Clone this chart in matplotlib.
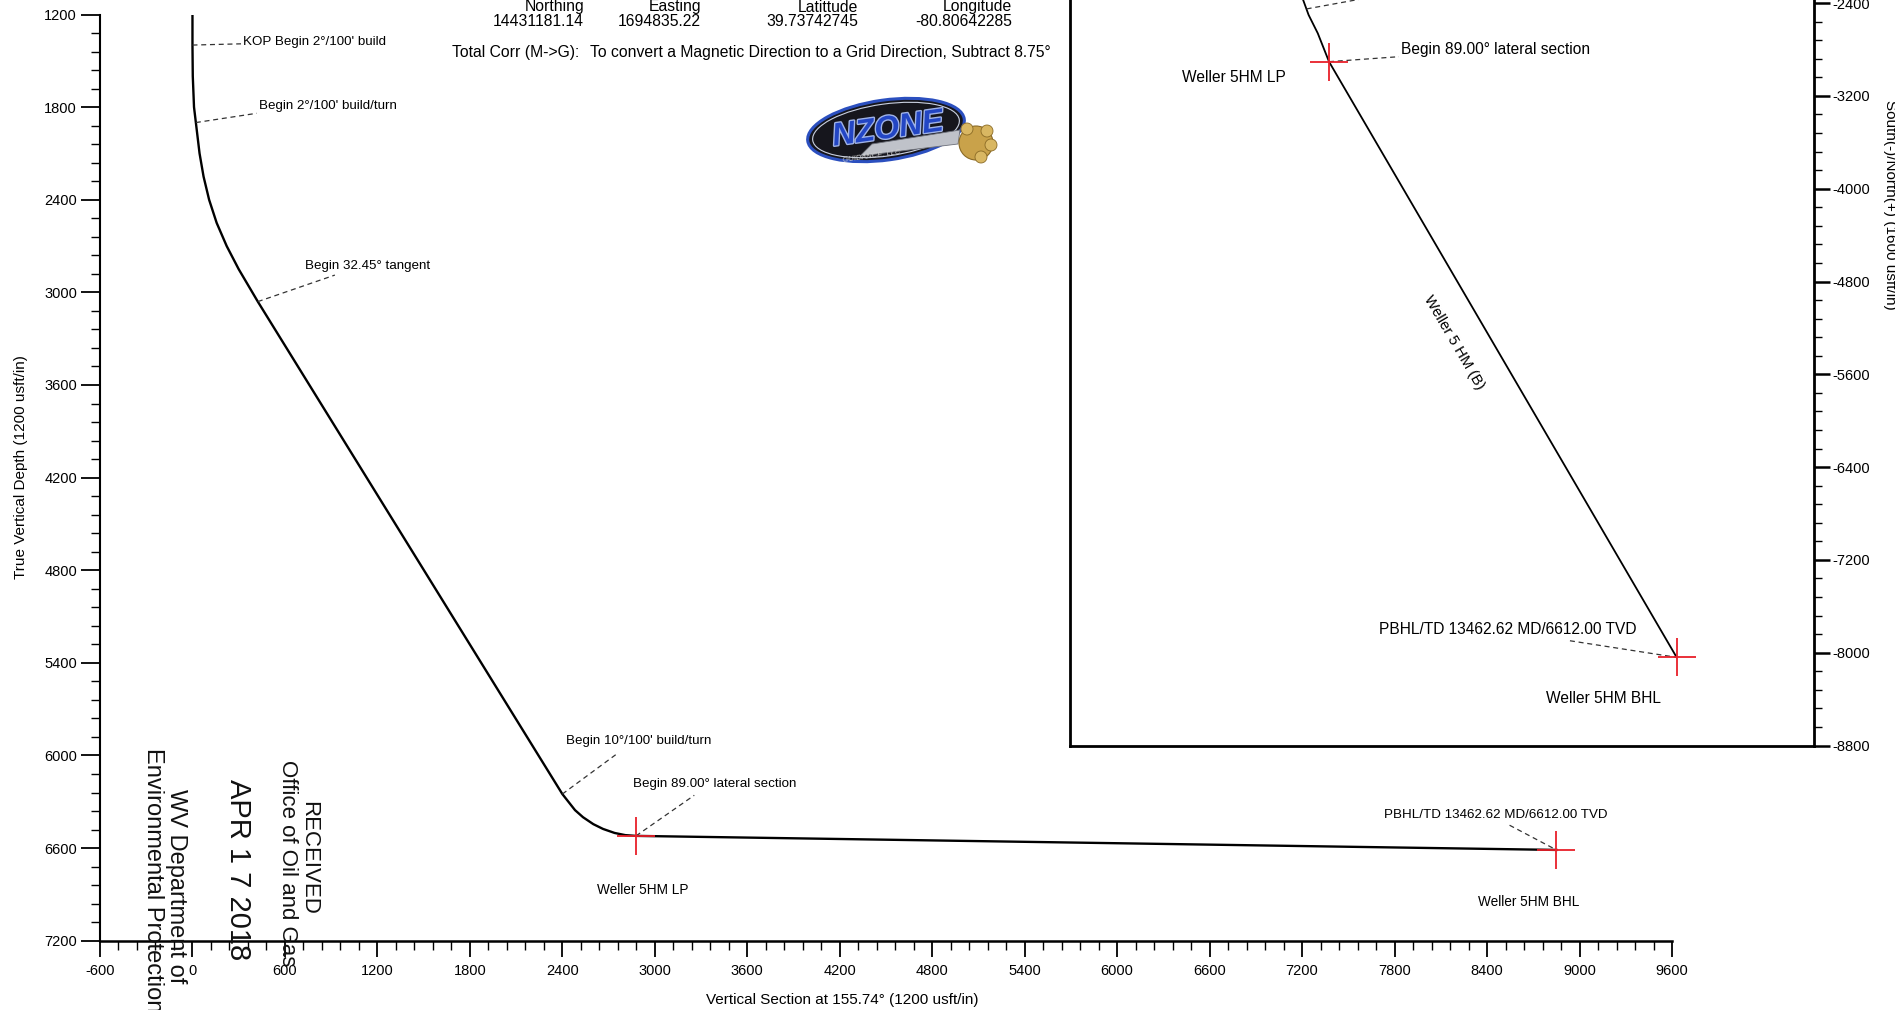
import matplotlib
matplotlib.use("Agg")
import matplotlib.pyplot as plt
import matplotlib.patheffects as pe
from matplotlib.patches import Ellipse, Polygon, Circle
from matplotlib.ticker import MultipleLocator

plt.rcParams['font.family'] = ['Liberation Sans', 'DejaVu Sans']
plt.rcParams['axes.unicode_minus'] = False

W, H = 1895, 1010

# --- section view (vertical section vs TVD), usft
vs = [0, 0, 2, 10, 22, 46, 72, 108, 157, 222, 300, 424,
      2400, 2482, 2534, 2601, 2664, 2739, 2808, 2878, 8850]
tvd = [1200, 1400, 1600, 1800, 1900, 2100, 2250, 2400, 2550, 2700, 2850, 3060,
       6250, 6354, 6400, 6445, 6476, 6502, 6516, 6521, 6612]

# --- plan view (east / north), usft
east = [380, 410, 457, 536, 633, 3630]
north = [-2200, -2373, -2502, -2660, -2905, -8040]

# targets
lp_vs, lp_tvd = 2878, 6521
bhl_vs, bhl_tvd = 8850, 6612
lp_e, lp_n = 633, -2905
bhl_e, bhl_n = 3630, -8040

# header values
head_labels = ['Northing', 'Easting', 'Latittude', 'Longitude']
head_values = ['14431181.14', '1694835.22', '39.73742745', '-80.80642285']
head_right = [584, 701, 858, 1012]

RED = '#e8202a'
DASH = dict(color='#333333', lw=0.9, dashes=(4, 3))


def px(x, y):
    return x / W, 1 - y / H


fig = plt.figure(figsize=(W / 100, H / 100), dpi=100)

# ---------------- main section plot
ax = fig.add_axes([100 / W, 69.3 / H, 1572 / W, 926.2 / H])
ax.set_xlim(-600, 9600)
ax.set_ylim(7200, 1200)
for s in ['top', 'right']:
    ax.spines[s].set_visible(False)
ax.spines['left'].set_linewidth(1.5)
ax.spines['bottom'].set_linewidth(1.8)
ax.xaxis.set_major_locator(MultipleLocator(600))
ax.xaxis.set_minor_locator(MultipleLocator(120))
ax.yaxis.set_major_locator(MultipleLocator(600))
ax.yaxis.set_minor_locator(MultipleLocator(120))
ax.tick_params(axis='x', which='major', length=11.5, width=1.3, pad=5, labelsize=10.5)
ax.tick_params(axis='x', which='minor', length=6.5, width=1.0)
ax.tick_params(axis='y', which='major', length=13.5, width=1.3, pad=3, labelsize=10.5)
ax.tick_params(axis='y', which='minor', length=6.5, width=1.0)

ax.plot(vs, tvd, color='black', lw=1.7)
ax.plot([lp_vs, bhl_vs], [lp_tvd, bhl_tvd], ls='none', marker='+', ms=27,
        mew=1.3, color=RED, zorder=5)

main_notes = [
    ("KOP Begin 2°/100' build", (0, 1398), (315, 1390), (325, 1380), 'left'),
    ("Begin 2°/100' build/turn", (22, 1900), (417, 1840), (432, 1793), 'left'),
    ("Begin 32.45° tangent", (424, 3060), (924, 2888), (731, 2828), 'left'),
    ("Begin 10°/100' build/turn", (2400, 6250), (2756, 5988), (2421, 5906), 'left'),
    ("Begin 89.00° lateral section", (lp_vs, lp_tvd), (3256, 6258), (2861, 6187), 'left'),
    ("PBHL/TD 13462.62 MD/6612.00 TVD", (8546, 6452), (bhl_vs, bhl_tvd), (8455, 6387), 'center'),
]
for txt, p0, p1, pt, ha in main_notes:
    ax.plot([p0[0], p1[0]], [p0[1], p1[1]], **DASH)
    ax.text(pt[0], pt[1], txt, ha=ha, va='center', fontsize=9.6)
ax.text(2921, 6873, 'Weller 5HM LP', ha='center', va='center', fontsize=9.8)
ax.text(8669, 6947, 'Weller 5HM BHL', ha='center', va='center', fontsize=9.8)

fig.text(*px(21, 467), 'True Vertical Depth (1200 usft/in)', rotation=90,
         ha='center', va='center', fontsize=11)
fig.text(*px(842, 1000), 'Vertical Section at 155.74° (1200 usft/in)',
         ha='center', va='center', fontsize=11)

# ---------------- plan view inset
ins = fig.add_axes([1070 / W, 1 - 745.5 / H, 744 / W, 1020.8 / H])
ins.set_xlim(-1600, 4814)
ins.set_ylim(-8800, 0)
ins.set_facecolor('white')
for s in ['left', 'bottom', 'right', 'top']:
    ins.spines[s].set_linewidth(2.0)
ins.set_xticks([])
ins.yaxis.tick_right()
ins.yaxis.set_major_locator(MultipleLocator(800))
ins.yaxis.set_minor_locator(MultipleLocator(160))
ins.tick_params(axis='y', which='major', length=11.5, width=1.8, pad=2, labelsize=10.5)
ins.tick_params(axis='y', which='minor', length=5.5, width=1.0)

ins.plot(east, north, color='black', lw=1.3)
ins.plot([lp_e, bhl_e], [lp_n, bhl_n], ls='none', marker='+', ms=27,
         mew=1.3, color=RED, zorder=5)
ins.plot([440, 1100], [-2450, -2330], **DASH)
ins.plot([lp_e, 1236], [lp_n, -2862], **DASH)
ins.plot([2710, bhl_e], [-7897, bhl_n], **DASH)
ins.text(1253, -2804, 'Begin 89.00° lateral section', ha='left', va='center', fontsize=11.2)
ins.text(-191, -3040, 'Weller 5HM LP', ha='center', va='center', fontsize=11.2)
ins.text(2176, -7798, 'PBHL/TD 13462.62 MD/6612.00 TVD', ha='center', va='center', fontsize=11.2)
ins.text(3000, -8399, 'Weller 5HM BHL', ha='center', va='center', fontsize=11.2)
ins.text(1710, -5330, 'Weller 5 HM (B)', rotation=-59.7, rotation_mode='anchor',
         ha='center', va='center', fontsize=10.8)

fig.text(*px(1890, 205), 'South(-)/North(+) (1600 usft/in)', rotation=270,
         ha='center', va='center', fontsize=11)

# ---------------- header block
for lab, val, xr in zip(head_labels, head_values, head_right):
    fig.text(*px(xr, 7), lab, ha='right', va='center', fontsize=11.3)
    fig.text(*px(xr, 21), val, ha='right', va='center', fontsize=11.3)
fig.text(*px(452, 52), 'Total Corr (M->G):', ha='left', va='center', fontsize=11.3)
fig.text(*px(590, 52), 'To convert a Magnetic Direction to a Grid Direction, Subtract 8.75°',
         ha='left', va='center', fontsize=11.3)

# ---------------- logo
logo = fig.add_axes([800 / W, 1 - 170 / H, 200 / W, 75 / H])
logo.set_xlim(0, 200)
logo.set_ylim(0, 75)
logo.axis('off')
logo.add_patch(Ellipse((86, 40), 158, 60, angle=8, facecolor='#16161d',
                       edgecolor='#2b4fbf', lw=2.2))
logo.add_patch(Ellipse((86, 40), 148, 52, angle=8, facecolor='none',
                       edgecolor='#c9d0e0', lw=0.8))
logo.add_patch(Polygon([[60, 14], [158, 26], [160, 40], [72, 26]],
                       facecolor='#bfc2c9', edgecolor='#6d7079', lw=0.6))
logo.add_patch(Circle((176, 27), 17, facecolor='#c9a24a', edgecolor='#8a6a25', lw=0.8))
for cx, cy in [(187, 39), (191, 25), (181, 13), (167, 41)]:
    logo.add_patch(Circle((cx, cy), 6, facecolor='#d9b762', edgecolor='#8a6a25', lw=0.6))
logo.text(88, 40, 'NZONE', ha='center', va='center', fontsize=23, color='#2346c4',
          fontweight='bold', fontstyle='italic', rotation=8,
          path_effects=[pe.withStroke(linewidth=2, foreground='#9fb2e6')])
logo.text(72, 15, 'GUIDANCE, LLC', ha='center', va='center', fontsize=5.5,
          color='#d0d0d0', fontstyle='italic', rotation=8)

# ---------------- receipt stamp
stamp = dict(rotation=270, ha='center', va='center', color='#111111')
fig.text(*px(309, 858), 'RECEIVED', fontsize=16, **stamp)
fig.text(*px(287, 863), 'Office of Oil and Gas', fontsize=16, **stamp)
fig.text(*px(238, 870), 'APR 1 7 2018', fontsize=21, **stamp)
fig.text(*px(176, 886), 'WV Department of', fontsize=17, **stamp)
fig.text(*px(153, 880), 'Environmental Protection', fontsize=17, **stamp)

fig.savefig('out.png', dpi=100, facecolor='white')
